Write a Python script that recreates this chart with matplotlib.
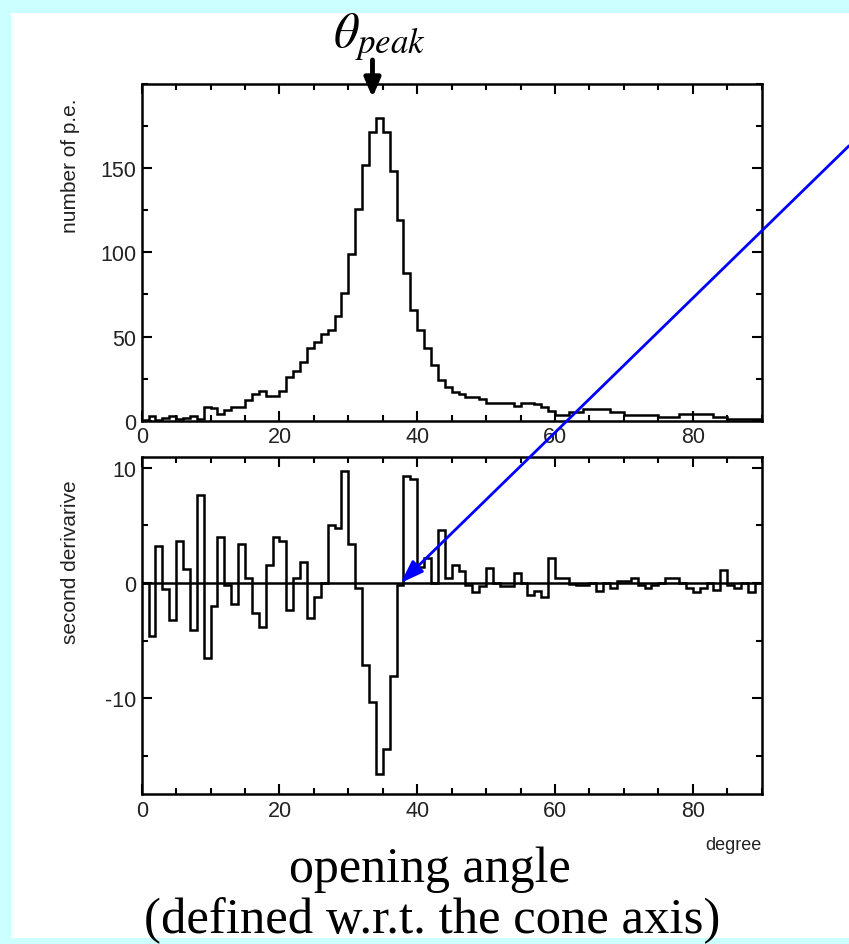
import numpy as np
import matplotlib
matplotlib.use("Agg")
import matplotlib.pyplot as plt
from matplotlib.patches import Rectangle

# bin edges in degrees (1 degree bins from 0 to 90)
edges = np.arange(0, 91, 1)

# number of photo-electrons per degree bin
npe = [0.5, 2.5, 0.5, 1.5, 2.5, 1, 1.5, 2.5, 1, 8.3,
       7.3, 4, 6.5, 8, 8, 12, 16, 17.8, 14.6, 14.6,
       17.4, 25.7, 29.7, 35, 43, 47, 51.5, 54, 62, 75.6,
       98.8, 125.7, 151.9, 171.7, 179.6, 171.7, 148.5, 119.2, 87.5, 65.7,
       53.9, 43.2, 33.3, 24, 20, 17, 15.8, 14.3, 14, 13,
       10.5, 10.5, 10.5, 10.5, 9, 10.8, 10.8, 9.9, 8, 5.5,
       3.5, 3.5, 5.3, 5.3, 7, 7, 7, 7, 5.3, 5.3,
       3.5, 3.5, 3.5, 3.5, 3.5, 2, 2, 2, 3.8, 3.8,
       3.8, 3.8, 3.8, 2, 2, 0.8, 0.8, 0.8, 0.8, 0.8]

# second derivative per bin
d2 = [0, -4.6, 3.2, -0.5, -3.2, 3.6, 1.2, -4.1, 7.6, -6.5,
      -2.0, 4.0, -0.2, -1.8, 3.4, 0.4, -2.6, -3.8, 1.6, 4.0,
      3.6, -2.3, 0.4, 1.8, -3.0, -1.2, 0, 5.0, 4.8, 9.7,
      3.4, -0.4, -7.1, -10.3, -16.6, -14.4, -8.1, -0.15, 9.3, 9.0,
      1.4, 2.2, 0, 4.6, 0.4, 1.6, 1.0, -0.2, -0.8, -0.3,
      1.3, 0, -0.3, -0.3, 0.9, 0, -1.0, -0.7, -1.2, 2.2,
      0.4, 0.4, -0.1, -0.2, -0.2, 0, -0.7, 0, -0.4, 0.2,
      0.2, 0.4, -0.2, -0.4, -0.2, 0, 0.4, 0.4, 0, -0.4,
      -0.8, -0.4, 0, -0.6, 1.1, -0.2, -0.4, 0, -0.8, 0]

theta_peak = 33.5
xticks = [0, 20, 40, 60, 80]

W, H = 849, 945
plt.rcParams['mathtext.fontset'] = 'stix'
plt.rcParams['axes.unicode_minus'] = False

fig = plt.figure(figsize=(W / 100, H / 100), dpi=100)
fig.patch.set_facecolor('#CCFFFF')
fig.add_artist(Rectangle((11 / W, 6 / H), 1 - 11 / W, 1 - 20 / H,
                         transform=fig.transFigure, facecolor='white',
                         edgecolor='none', zorder=0))

sans = 'Liberation Sans'

ax1 = fig.add_axes([141.7 / W, 1 - 421.7 / H, 620 / W, 336.7 / H])
ax2 = fig.add_axes([141.7 / W, 1 - 795 / H, 620 / W, 336.7 / H])

ax1.stairs(npe, edges, color='black', lw=1.8)
ax1.set_xlim(0, 90)
ax1.set_ylim(0, 200)
ax1.set_yticks([0, 50, 100, 150])
ax1.set_yticks(np.arange(0, 201, 25), minor=True)

ax2.stairs(d2, edges, color='black', lw=1.8)
ax2.axhline(0, color='black', lw=1.8)
ax2.set_xlim(0, 90)
ax2.set_ylim(-18.3, 10.9)
ax2.set_yticks([-10, 0, 10])
ax2.set_yticks(np.arange(-15, 11, 5), minor=True)

for ax in (ax1, ax2):
    ax.set_xticks(xticks)
    ax.set_xticks(np.arange(0, 91, 5), minor=True)
    ax.tick_params(which='both', direction='in', top=True, right=True,
                   width=1.5, labelsize=15.5, pad=4)
    ax.tick_params(which='major', length=7)
    ax.tick_params(which='minor', length=4)
    for lab in ax.get_xticklabels() + ax.get_yticklabels():
        lab.set_family(sans)
        lab.set_color('#222222')
    for sp in ax.spines.values():
        sp.set_linewidth(1.8)

fig.text(70 / W, 1 - 166 / H, 'number of p.e.', rotation=90, ha='center',
         va='center', fontsize=15, family=sans, color='#222222')
fig.text(70 / W, 1 - 562 / H, 'second derivarive', rotation=90, ha='center',
         va='center', fontsize=15, family=sans, color='#222222')
fig.text(762 / W, 1 - 846 / H, 'degree', ha='right', va='center',
         fontsize=13, family=sans, color='#222222')

fig.text(430 / W, 1 - 870 / H, 'opening angle', ha='center', va='center',
         fontsize=36, family='Liberation Serif')
fig.text(432 / W, 1 - 921 / H, '(defined w.r.t. the cone axis)', ha='center',
         va='center', fontsize=36.5, family='Liberation Serif')

# theta_peak marker
fig.text(379 / W, 1 - 37 / H, r'$\theta_{peak}$', ha='center', va='center',
         fontsize=36)
ax1.annotate('', xy=(theta_peak, 192), xytext=(theta_peak, 200 + 24 / 1.684),
             arrowprops=dict(arrowstyle='-|>,head_width=0.3,head_length=0.7',
                             lw=3.5, color='black', mutation_scale=16,
                             shrinkA=0, shrinkB=0),
             annotation_clip=False)

# blue arrow pointing at the zero crossing
ax2.annotate('', xy=(37.6, 0), xycoords='data',
             xytext=(1.0, 1 - 146.8 / H), textcoords='figure fraction',
             arrowprops=dict(arrowstyle='-|>,head_width=0.35,head_length=1.0',
                             lw=2, color='#0000FF', mutation_scale=14,
                             shrinkA=0, shrinkB=0),
             annotation_clip=False, zorder=10)

fig.savefig('out.png', dpi=100, facecolor=fig.get_facecolor())
